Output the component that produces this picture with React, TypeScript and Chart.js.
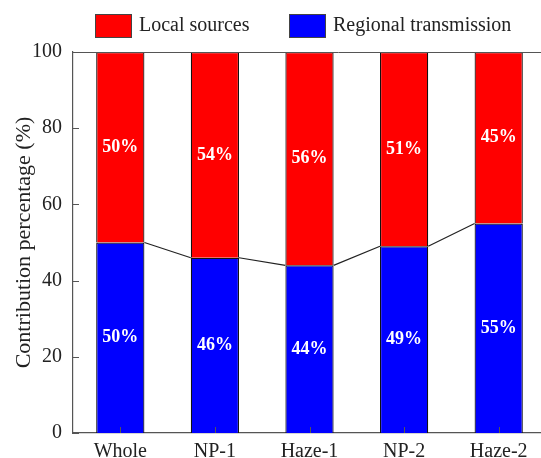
import React, { useEffect, useRef } from "react";
import { Chart, registerables } from "chart.js";

Chart.register(...registerables);

const categories = ["Whole", "NP-1", "Haze-1", "NP-2", "Haze-2"];
const localSources = [50, 54, 56, 51, 45];
const regionalTransmission = [50, 46, 44, 49, 55];
const yTicks = [0, 20, 40, 60, 80, 100];

const FONT = "'Liberation Serif', 'Times New Roman', serif";
const AXIS_COLOR = "#555";

const customPlugin = {
  id: "custom",
  afterDatasetsDraw(chart: any) {
    const ctx = chart.ctx;
    const area = chart.chartArea;
    const blueMeta = chart.getDatasetMeta(1);
    const redMeta = chart.getDatasetMeta(0);
    ctx.save();
    // connecting line between bar tops of regional transmission
    ctx.strokeStyle = "#222";
    ctx.lineWidth = 1.2;
    ctx.beginPath();
    for (let i = 0; i < blueMeta.data.length - 1; i++) {
      const a = blueMeta.data[i];
      const b = blueMeta.data[i + 1];
      ctx.moveTo(a.x + a.width / 2, a.y);
      ctx.lineTo(b.x - b.width / 2, b.y);
    }
    ctx.stroke();
    // value labels
    ctx.fillStyle = "#fff";
    ctx.font = `bold 18px ${FONT}`;
    ctx.textAlign = "center";
    ctx.textBaseline = "middle";
    [redMeta, blueMeta].forEach((meta: any, mi: number) => {
      const vals = mi === 0 ? localSources : regionalTransmission;
      meta.data.forEach((el: any, i: number) => {
        ctx.fillText(vals[i] + "%", el.x, (el.y + el.base) / 2);
      });
    });
    // inward ticks
    ctx.strokeStyle = AXIS_COLOR;
    ctx.lineWidth = 1;
    ctx.beginPath();
    const ys = chart.scales.y;
    yTicks.forEach((v) => {
      const py = Math.round(ys.getPixelForValue(v)) + 0.5;
      ctx.moveTo(area.left, py);
      ctx.lineTo(area.left + 6, py);
    });
    const xs = chart.scales.x;
    categories.forEach((_, i) => {
      const px = Math.round(xs.getPixelForValue(i)) + 0.5;
      ctx.moveTo(px, area.bottom);
      ctx.lineTo(px, area.bottom - 6);
    });
    // top frame
    ctx.moveTo(area.left, Math.round(area.top) + 0.5);
    ctx.lineTo(chart.width, Math.round(area.top) + 0.5);
    ctx.stroke();
    // legend
    ctx.font = `20px ${FONT}`;
    ctx.textAlign = "left";
    ctx.textBaseline = "middle";
    const items = [0, 1].map((d) => chart.data.datasets[d]);
    const positions = [95, 289];
    items.forEach((ds: any, k: number) => {
      const x = positions[k];
      ctx.fillStyle = ds.backgroundColor;
      ctx.fillRect(x, 14, 36, 23);
      ctx.strokeStyle = "#444";
      ctx.lineWidth = 1;
      ctx.strokeRect(x + 0.5, 14.5, 36, 23);
      ctx.fillStyle = "#222";
      ctx.fillText(ds.label, x + 44, 26);
    });
    ctx.restore();
  },
};

export default function App() {
  const ref = useRef<HTMLCanvasElement>(null);
  useEffect(() => {
    if (!ref.current) return;
    const chart = new Chart(ref.current, {
      type: "bar",
      data: {
        labels: categories,
        datasets: [
          {
            label: "Local sources",
            data: localSources,
            backgroundColor: "#FF0000",
            borderColor: "#111",
            borderWidth: 1.2,
            stack: "s",
            order: 2,
          },
          {
            label: "Regional transmission",
            data: regionalTransmission,
            backgroundColor: "#0000FF",
            borderColor: "#111",
            borderWidth: 1.2,
            stack: "s",
            order: 1,
          },
        ] as any,
      },
      options: {
        responsive: false,
        animation: false,
        datasets: { bar: { categoryPercentage: 1, barPercentage: 0.51 } },
        layout: { padding: { top: 52, right: 58, left: 13, bottom: -13 } },
        plugins: { legend: { display: false }, tooltip: { enabled: false } },
        scales: {
          x: {
            stacked: true,
            grid: { display: false, drawTicks: false },
            border: { display: true, color: AXIS_COLOR, width: 1.2 },
            ticks: { color: "#222", font: { family: FONT, size: 20 }, padding: 7 },
          },
          y: {
            stacked: true,
            min: 0,
            max: 100,
            grid: { display: false, drawTicks: false },
            border: { display: true, color: AXIS_COLOR, width: 1.2 },
            afterBuildTicks: (axis: any) => {
              axis.ticks = yTicks.map((v) => ({ value: v }));
            },
            ticks: { color: "#222", font: { family: FONT, size: 20 }, padding: 11 },
            title: {
              display: true,
              text: "Contribution percentage (%)",
              color: "#222",
              font: { family: FONT, size: 22, lineHeight: 1 },
              padding: { top: 0, bottom: -14 },
            },
          },
        },
      },
      plugins: [customPlugin],
    });
    return () => chart.destroy();
  }, []);
  return (
    <div style={{ position: "absolute", left: 0, top: 0, width: 541, height: 458, overflow: "hidden", background: "#fff" }}>
      <canvas ref={ref} width={604} height={458} style={{ width: 604, height: 458, display: "block" }} />
    </div>
  );
}
